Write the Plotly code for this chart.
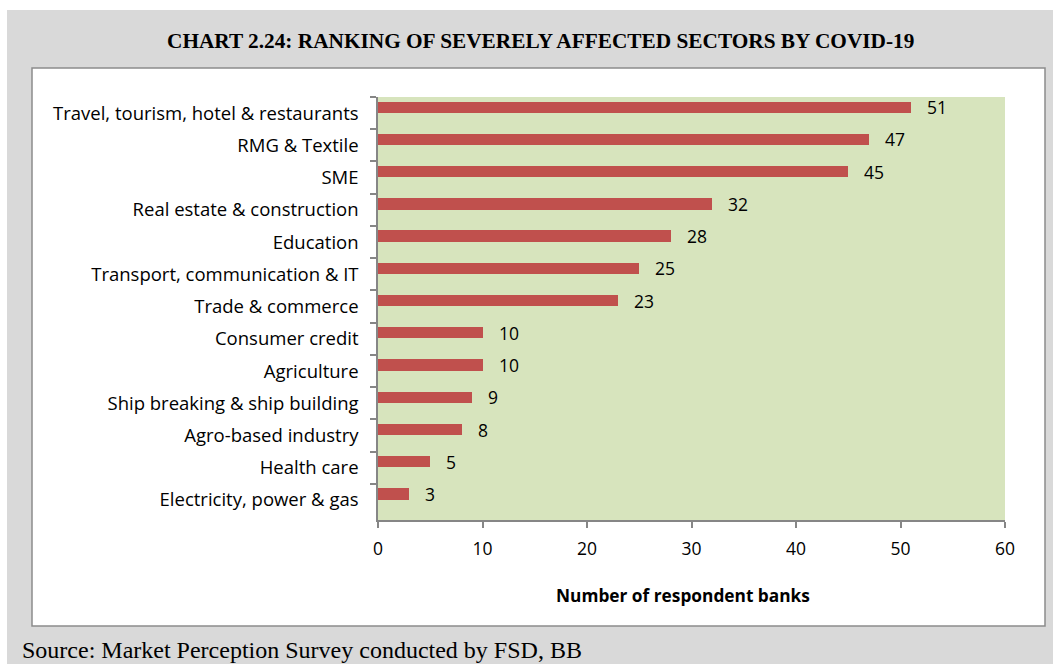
import plotly.graph_objects as go

# Sectors ranked from most to least affected
sectors = [
    "Travel, tourism, hotel & restaurants",
    "RMG & Textile",
    "SME",
    "Real estate & construction",
    "Education",
    "Transport, communication & IT",
    "Trade & commerce",
    "Consumer credit",
    "Agriculture",
    "Ship breaking & ship building",
    "Agro-based industry",
    "Health care",
    "Electricity, power & gas",
]
respondent_banks = [51, 47, 45, 32, 28, 25, 23, 10, 10, 9, 8, 5, 3]
x_ticks = [0, 10, 20, 30, 40, 50, 60]

W, H = 1053, 664
L, R, T, B = 378, 1005, 97, 520  # plot area in pixels
PW, PH = R - L, B - T


def px(x):
    return (x - L) / PW


def py(y):
    return (B - y) / PH


BAR = "#c0504d"
GREEN = "#d7e4bd"
AXIS = "#868686"
FONT = "Open Sans"

fig = go.Figure()
fig.add_trace(go.Bar(
    x=respondent_banks,
    y=sectors,
    orientation="h",
    marker=dict(color=BAR, line=dict(width=0)),
    width=0.35,
    offset=-0.36,
    hoverinfo="skip",
))

# value labels to the right of each bar
for s, v in zip(sectors, respondent_banks):
    fig.add_annotation(
        x=v, y=s, xref="x", yref="y",
        text=str(v), showarrow=False,
        xanchor="left", yanchor="middle",
        xshift=14, yshift=6,
        font=dict(family=FONT, size=17.5, color="#000000"),
    )

shapes = [
    # grey page panel
    dict(type="rect", xref="paper", yref="paper",
         x0=px(7), x1=px(W + 5), y0=py(H + 5), y1=py(10),
         fillcolor="#d9d9d9", line=dict(width=0), layer="below"),
    # white chart frame
    dict(type="rect", xref="paper", yref="paper",
         x0=px(32), x1=px(1045), y0=py(626), y1=py(68),
         fillcolor="#ffffff", line=dict(color="#8c8c8c", width=1.5), layer="below"),
    # plot area fill
    dict(type="rect", xref="paper", yref="paper",
         x0=0, x1=1, y0=0, y1=1,
         fillcolor=GREEN, line=dict(width=0), layer="below"),
]

annotations = [
    dict(text="<b>CHART 2.24: RANKING OF SEVERELY AFFECTED SECTORS BY COVID-19</b>",
         x=px(540), y=py(41), xref="paper", yref="paper",
         xanchor="center", yanchor="middle", showarrow=False,
         font=dict(family="Liberation Serif", size=21.3, color="#000000")),
    dict(text="<b>Number of respondent banks</b>",
         x=px(683), y=py(595), xref="paper", yref="paper",
         xanchor="center", yanchor="middle", showarrow=False,
         font=dict(family=FONT, size=17.3, color="#000000")),
    dict(text="Source: Market Perception Survey conducted by FSD, BB",
         x=px(20), y=py(635), xref="paper", yref="paper",
         xanchor="left", yanchor="top", showarrow=False,
         font=dict(family="Liberation Serif", size=24, color="#000000")),
]
for a in annotations:
    fig.add_annotation(**a)

fig.update_layout(
    width=W, height=H,
    margin=dict(l=L, r=W - R, t=T, b=H - B, pad=0),
    paper_bgcolor="#ffffff",
    plot_bgcolor="rgba(0,0,0,0)",
    showlegend=False,
    shapes=shapes,
    bargap=0,
    xaxis=dict(
        range=[0, 60], tickvals=x_ticks,
        showgrid=False, zeroline=False,
        showline=True, linecolor=AXIS, linewidth=1.5,
        ticks="outside", ticklen=6, tickcolor=AXIS, tickwidth=1.5,
        tickfont=dict(family=FONT, size=17.5, color="#000000"),
        ticklabelstandoff=6,
    ),
    yaxis=dict(
        type="category", categoryorder="array", categoryarray=sectors,
        autorange="reversed",
        showgrid=False, zeroline=False,
        showline=True, linecolor=AXIS, linewidth=1.5,
        ticks="outside", ticklen=6, tickcolor=AXIS, tickwidth=1.5,
        tickson="boundaries",
        tickfont=dict(family=FONT, size=18.5, color="#000000"),
        ticklabelstandoff=14,
    ),
)

fig.write_html("out.html")
